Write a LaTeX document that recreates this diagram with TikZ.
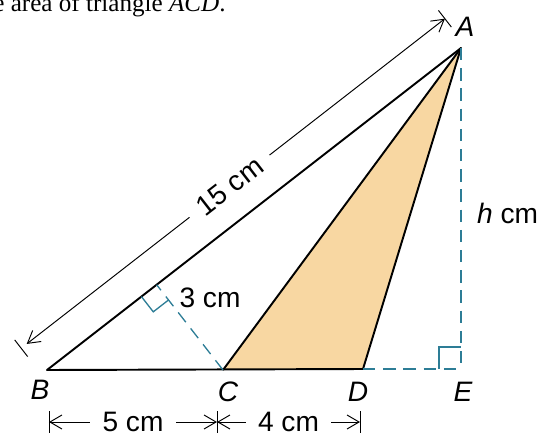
\documentclass[tikz,border=0pt]{standalone}
\usepackage{fontspec}
\setmainfont{Liberation Sans}
\newfontfamily\qfont{Liberation Serif}
\usetikzlibrary{calc, arrows.meta}
\definecolor{tanfill}{RGB}{248,215,162}
\definecolor{auxcol}{RGB}{45,125,150}

\begin{document}
\begin{tikzpicture}[
        x=0.02cm, y=-0.02cm,
        font=\fontsize{16}{19}\selectfont,
        edge/.style={line width=1.1pt, line join=round},
        aux/.style={auxcol, line width=0.75pt, dash pattern=on 7pt off 4.5pt},
        rmark/.style={auxcol, line width=0.75pt},
        dim/.style={line width=0.55pt, {Straight Barb[length=2.4mm,width=2.8mm]}-{Straight Barb[length=2.4mm,width=2.8mm]}},
        tick/.style={line width=0.55pt},
        lbl/.style={font=\fontsize{16}{19}\selectfont\itshape},
        gap/.style={fill=white, inner xsep=7pt, inner ysep=1pt}
    ]
    \useasboundingbox (0,0) rectangle (539,437);
    \clip (0,0) rectangle (539,437);

    \node[anchor=base west, inner sep=0pt, font=\qfont\fontsize{14.3}{17}\selectfont] (title) at (-7,11) {e area of triangle \textit{ACD}.};

    \coordinate (A) at (461,48);
    \coordinate (B) at (47,370);
    \coordinate (C) at (223,370);
    \coordinate (D) at (363,369);
    \coordinate (E) at (461,369);
    \coordinate (F) at ($(B)!(C)!(A)$);

    % triangle ACD
    \fill[tanfill] (A) -- (C) -- (D) -- cycle;
    \draw[edge] (A) -- (B) -- (D) -- cycle;
    \draw[edge] (A) -- (C);

    % heights
    \draw[aux] (A) -- (E);
    \draw[aux] (D) -- (E);
    \draw[aux] (C) -- (F);
    \draw[rmark] ($(E)+(-22,0)$) -- ++(0,-22) -- ++(22,0);
    \coordinate (f1) at ($(F)!11pt!(B)$);
    \coordinate (f2) at ($(F)!11pt!(C)$);
    \draw[rmark] (f1) -- ($(f1)+(f2)-(F)$) -- (f2);

    % dimensions
    \coordinate (b15) at ($(B)!18.8pt!90:(A)$);
    \coordinate (a15) at ($(A)!18.8pt!-90:(B)$);
    \coordinate (b15t) at ($(b15)!-4pt!(a15)$);
    \coordinate (a15t) at ($(a15)!-3pt!(b15)$);
    \draw[dim] (b15) -- node[gap, sloped, pos=0.485] (l15) {15 cm} (a15t);
    \draw[tick] ($(b15t)!6pt!90:(a15)$) -- ($(b15t)!6pt!-90:(a15)$);
    \draw[tick] ($(a15t)!6pt!90:(b15)$) -- ($(a15t)!6pt!-90:(b15)$);

    \coordinate (d1) at (49,422);
    \coordinate (d2) at (217,422);
    \coordinate (d3) at (360,422);
    \draw[dim] (d1) -- node[gap] (l5) {5 cm} (d2);
    \draw[dim] (d2) -- node[gap] (l4) {4 cm} (d3);
    \foreach \p in {d1,d2,d3}
        \draw[tick] ($(\p)+(0,-11)$) -- ($(\p)+(0,11)$);

    \node (l3) at (210,298) {3 cm};
    \node[anchor=west] (lh) at (471,213) {\textit{h} cm};

    \node[lbl] (lA) at (465,27) {A};
    \node[lbl] (lB) at (40,390) {B};
    \node[lbl] (lC) at (228,392) {C};
    \node[lbl] (lD) at (358,392) {D};
    \node[lbl] (lE) at (463,392) {E};
\end{tikzpicture}
\end{document}
